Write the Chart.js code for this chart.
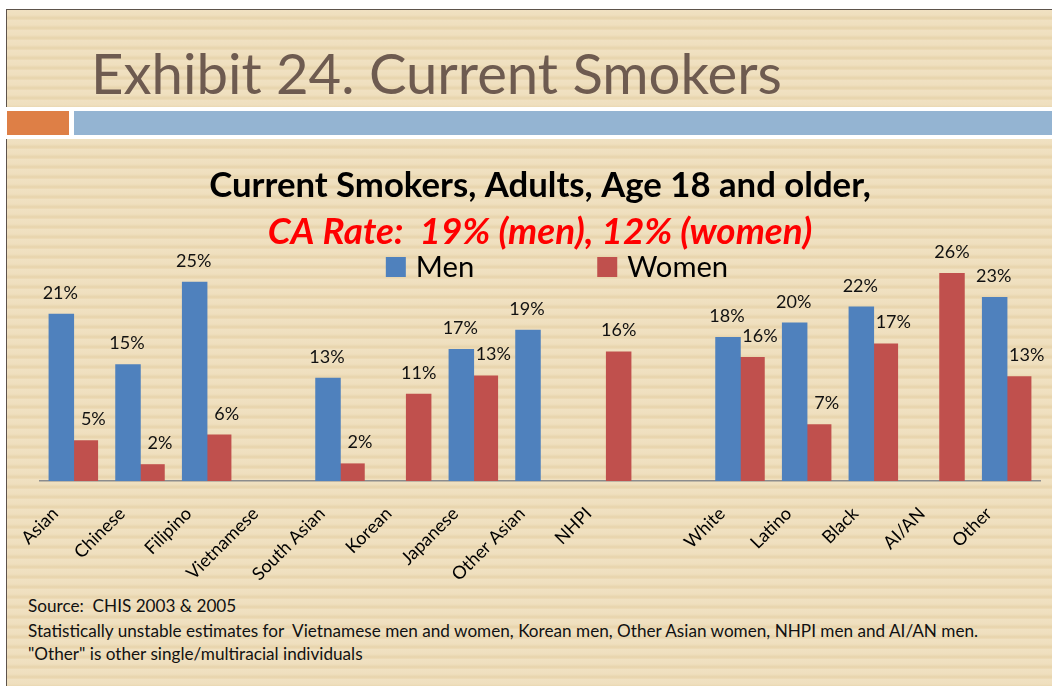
<!DOCTYPE html>
<html>
<head>
<meta charset="utf-8">
<script src="https://cdn.jsdelivr.net/npm/chart.js@4.4.1/dist/chart.umd.min.js"></script>
<style>
html,body{margin:0;padding:0;width:1052px;height:686px;overflow:hidden;background:#ffffff;}
.abs{position:absolute;}
.beige{background-color:#efdfbe;background-image:repeating-linear-gradient(180deg,#f0e1c2 0px,#efdfbe 5px,#e7d4ac 8px,#eedcb9 10px);}
.txt{position:absolute;white-space:pre;line-height:1;font-family:Lato,"Open Sans",sans-serif;}
#chartBox{position:absolute;left:0;top:139px;width:1052px;height:442px;}
</style>
</head>
<body>
<div class="abs" style="left:6px;top:9px;width:1046px;height:1px;background:#5d534b;"></div>
<div class="abs" style="left:6px;top:9px;width:1px;height:98px;background:#5d534b;"></div>
<div class="abs beige" style="left:7px;top:10px;width:1045px;height:97px;"></div>
<div class="abs" style="left:7px;top:111px;width:62px;height:24px;background:#de7f46;"></div>
<div class="abs" style="left:74px;top:111px;width:978px;height:24px;background:#94b4d2;"></div>
<div class="abs" style="left:6px;top:139px;width:1px;height:547px;background:#5d534b;"></div>
<div class="abs beige" style="left:7px;top:139px;width:1045px;height:547px;"></div>

<div id="slideTitle" class="txt" style="color:#6e5b50;">Exhibit 24. Current Smokers</div>
<div id="note1" class="txt" style="color:#111;">Source:  CHIS 2003 &amp; 2005</div>
<div id="note2" class="txt" style="color:#111;">Statistically unstable estimates for  Vietnamese men and women, Korean men, Other Asian women, NHPI men and AI/AN men.</div>
<div id="note3" class="txt" style="color:#111;">"Other" is other single/multiracial individuals</div>

<div id="chartBox"><canvas id="c" width="1052" height="442"></canvas></div>

<script>
// ---- data ----
const categories = ['Asian','Chinese','Filipino','Vietnamese','South Asian','Korean','Japanese','Other Asian','NHPI','','White','Latino','Black','AI/AN','Other'];
const menRates   = [20.9, 14.6, 24.9, null, 12.9, null, 16.5, 18.9, null, null, 18.0, 19.8, 21.8, null, 23.0];
const womenRates = [5.1, 2.1, 5.8, null, 2.2, 10.9, 13.2, null, 16.2, null, 15.5, 7.1, 17.2, 26.0, 13.1];
const seriesNames = ['Men','Women'];
const chartTitle = 'Current Smokers, Adults, Age 18 and older,';
const chartSubtitle = 'CA Rate:  19% (men), 12% (women)';

// ---- text fitting helpers ----
const FAMILY = 'Lato';
const mctx = document.createElement('canvas').getContext('2d');
function fitSize(text, style, target){
  mctx.font = style + ' 100px ' + FAMILY;
  return 100 * target / mctx.measureText(text).width;
}
function placeText(id, left, baseline, targetWidth, style){
  const el = document.getElementById(id);
  const s = fitSize(el.textContent, style || 'normal', targetWidth);
  el.style.fontSize = s + 'px';
  el.style.left = left + 'px';
  el.style.top = (baseline - 0.887 * s) + 'px';
  return s;
}
placeText('slideTitle', 91, 94, 691);
const ns = placeText('note2', 28, 637, 954);
['note1','note3'].forEach((id, i) => {
  const el = document.getElementById(id);
  el.style.fontSize = ns + 'px';
  el.style.left = '28px';
  el.style.top = ((i === 0 ? 612 : 660) - 0.887 * ns) + 'px';
});

const titleSize = fitSize(chartTitle, 'bold', 662);
const subSize = fitSize(chartSubtitle, 'italic bold', 545);
const legendSize = fitSize('Women', 'normal', 101);

// ---- plugins ----
const valueLabels = {
  id: 'valueLabels',
  afterDatasetsDraw(chart){
    const ctx = chart.ctx;
    ctx.save();
    ctx.font = '18px ' + FAMILY;
    ctx.fillStyle = '#111';
    ctx.textAlign = 'center';
    ctx.textBaseline = 'alphabetic';
    chart.data.datasets.forEach((ds, di) => {
      const meta = chart.getDatasetMeta(di);
      meta.data.forEach((bar, i) => {
        const v = ds.data[i];
        if (v === null || v === undefined) return;
        let dx = -1;
        if (di === 1) dx = (chart.data.datasets[0].data[i] === null) ? 0 : 8;
        ctx.fillText(Math.round(v) + '%', bar.x + dx, bar.y - 15);
      });
    });
    ctx.restore();
  }
};

const slideLegend = {
  id: 'slideLegend',
  afterDraw(chart){
    const ctx = chart.ctx, ca = chart.chartArea;
    ctx.save();
    ctx.font = legendSize + 'px ' + FAMILY;
    const box = 20, gapText = 10, gapItem = 123;
    const items = chart.data.datasets.map(ds => ({
      text: ds.label, color: ds.backgroundColor,
      w: box + gapText + ctx.measureText(ds.label).width
    }));
    const total = items.reduce((s, it) => s + it.w, 0) + gapItem * (items.length - 1);
    let x = (ca.left + ca.right) / 2 + 17 - total / 2;
    const cy = ca.top + 18;
    items.forEach(it => {
      ctx.fillStyle = it.color;
      ctx.fillRect(x, cy - box / 2, box, box);
      ctx.fillStyle = '#000';
      ctx.textAlign = 'left';
      ctx.textBaseline = 'middle';
      ctx.fillText(it.text, x + box + gapText, cy + 1);
      x += it.w + gapItem;
    });
    ctx.restore();
  }
};

new Chart(document.getElementById('c'), {
  type: 'bar',
  data: {
    labels: categories,
    datasets: [
      { label: seriesNames[0], data: menRates, backgroundColor: '#4f81bd', categoryPercentage: 0.72, barPercentage: 1.0625 },
      { label: seriesNames[1], data: womenRates, backgroundColor: '#c0504d', categoryPercentage: 0.72, barPercentage: 1.0625 }
    ]
  },
  options: {
    responsive: false,
    animation: false,
    devicePixelRatio: 1,
    layout: { padding: { left: 40, right: 12, top: 0, bottom: 0 } },
    plugins: {
      legend: { display: false },
      tooltip: { enabled: false },
      title: {
        display: true, text: chartTitle, color: '#000', fullSize: false,
        font: { family: FAMILY, weight: 'bold', size: titleSize, lineHeight: '34px' },
        padding: { top: 30, bottom: 0 }
      },
      subtitle: {
        display: true, text: chartSubtitle, color: '#ff0000', fullSize: false,
        font: { family: FAMILY, weight: 'bold', style: 'italic', size: subSize, lineHeight: '34px' },
        padding: { top: 12, bottom: 0 }
      }
    },
    scales: {
      x: {
        grid: { display: false, drawTicks: false },
        border: { display: true, color: '#8c8c8c', width: 1.5 },
        ticks: {
          autoSkip: false, maxRotation: 45, minRotation: 45,
          padding: 22, labelOffset: -18,
          color: '#000', font: { family: FAMILY, size: 18 }
        },
        afterFit(scale){ scale.height = 100; }
      },
      y: {
        display: false, min: 0, max: 29,
        grid: { display: false }
      }
    }
  },
  plugins: [valueLabels, slideLegend]
});
</script>
</body>
</html>
